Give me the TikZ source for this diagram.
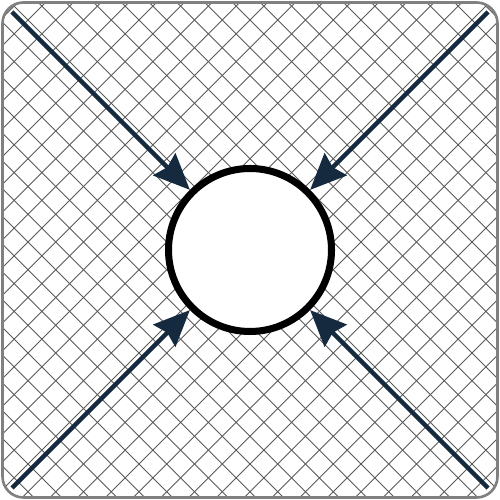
\documentclass[tikz,border=0pt]{standalone}
\usetikzlibrary{arrows.meta}
\definecolor{navy}{HTML}{15293F}
\begin{document}
\begin{tikzpicture}[
    hatch/.style={black!65, line width=0.5pt},
    flow/.style={navy, line width=2.6pt, -{Stealth[length=0.72cm, width=0.62cm, inset=0.08cm]}},
    hole/.style={circle, draw, fill=white, line width=4pt, minimum size=3.26cm, inner sep=0pt}]
    \useasboundingbox (0,0) rectangle (10,10);
    \begin{scope}
        \clip[rounded corners=0.42cm] (0.05,0.05) rectangle (9.95,9.95);
        \foreach \i in {-19,...,19} {
            \draw[hatch] (0.16+\i*0.555,10) -- ++(10,-10);
            \draw[hatch] (9.84-\i*0.555,10) -- ++(-10,-10);
        }
    \end{scope}
    \draw[gray, line width=1.5pt, rounded corners=0.42cm] (0.05,0.05) rectangle (9.95,9.95);
    \node[hole] (hole) at (5,5) {};
    \coordinate (nw) at (0.24,9.76);
    \coordinate (ne) at (9.76,9.76);
    \coordinate (sw) at (0.24,0.24);
    \coordinate (se) at (9.76,0.24);
    \draw[flow] (nw) -- (hole.north west);
    \draw[flow] (ne) -- (hole.north east);
    \draw[flow] (sw) -- (hole.south west);
    \draw[flow] (se) -- (hole.south east);
\end{tikzpicture}
\end{document}
